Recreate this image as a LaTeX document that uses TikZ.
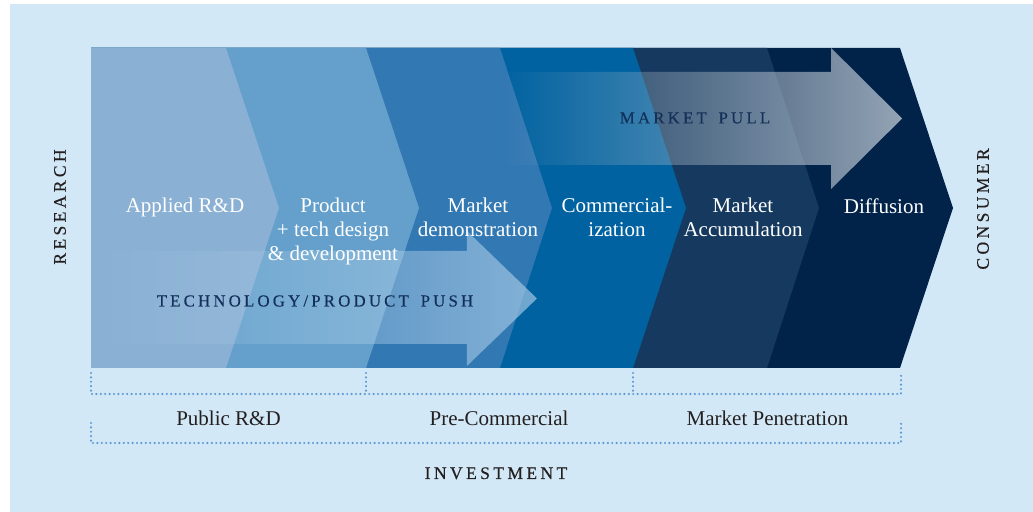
\documentclass[tikz,border=0pt]{standalone}
\usepackage{fontspec}
\setmainfont{Liberation Serif}
\newfontfamily\spacedcaps[LetterSpace=19, WordSpace=1.6, FakeBold=0.3]{Liberation Serif}
\usetikzlibrary{fadings}

\definecolor{bgblue}{HTML}{D3E8F6}
\definecolor{segA}{HTML}{8AB0D4}
\definecolor{segB}{HTML}{64A0CB}
\definecolor{segC}{HTML}{3278B3}
\definecolor{segD}{HTML}{0062A0}
\definecolor{segE}{HTML}{163A5F}
\definecolor{segF}{HTML}{012349}
\definecolor{pushfill}{HTML}{B0D0EA}
\definecolor{pullfill}{HTML}{B8C4D0}
\definecolor{navytext}{HTML}{13305A}
\definecolor{inktext}{HTML}{231F20}
\definecolor{dotblue}{HTML}{5B9BD5}

% opacity ramps for the two flow arrows
\tikzfading[name=pushfade, left color=transparent!100, middle color=transparent!62, right color=transparent!35]
\tikzfading[name=pullfade, left color=transparent!100, middle color=transparent!36, right color=transparent!20]

% one stage of the chevron band: fill, top/bottom x of the right edge, tip x
\newcommand\stageshape[3]{\fill[#1] (91,48) -- (#2,48) -- (#3,208) -- (#2,368) -- (91,368) -- cycle;}

\begin{document}
\begin{tikzpicture}[x=0.5pt, y=-0.5pt,
  stagetext/.style={text=white, inner sep=0pt, anchor=north, align=center,
    font=\fontsize{10.5}{12}\selectfont},
  flowtext/.style={text=navytext, inner sep=0pt,
    font=\fontsize{8.4}{10}\selectfont\spacedcaps},
  sidetext/.style={text=inktext, inner sep=0pt,
    font=\fontsize{8.8}{10}\selectfont\spacedcaps},
  phasetext/.style={text=inktext, inner sep=0pt, anchor=north,
    font=\fontsize{10.5}{12}\selectfont},
  dots/.style={draw=dotblue, line width=1.2pt, line cap=round,
    dash pattern=on 0pt off 2.2pt}]

\useasboundingbox (0,0) rectangle (1033,512);
\fill[white] (0,0) rectangle (1033,512);
\fill[bgblue] (10,4) rectangle (1033,512);

% chevron band, back to front
\stageshape{segF}{900}{953}
\stageshape{segE}{767}{819}
\stageshape{segD}{633}{686}
\stageshape{segC}{500}{552}
\stageshape{segB}{366}{419}
\stageshape{segA}{226}{279}

% market pull arrow
\fill[pullfill, path fading=pullfade]
  (500,72) -- (831,72) -- (831,48) -- (902,118.5) -- (831,189) -- (831,165) -- (500,165) -- cycle;

% technology / product push arrow
\fill[pushfill, path fading=pushfade]
  (91,251) -- (467,251) -- (467,231) -- (537,298.5) -- (467,366) -- (467,344) -- (91,344) -- cycle;

% stage labels
\node[stagetext] (applied) at (185,198) {Applied R\&D};
\node[stagetext] (product) at (333,198) {Product\\+ tech design\\\& development};
\node[stagetext] (demo) at (478,198) {Market\\demonstration};
\node[stagetext] (commercial) at (617,198) {Commercial-\\ization};
\node[stagetext] (accum) at (743,198) {Market\\Accumulation};
\node[stagetext] (diffusion) at (884,198) {Diffusion};

% flow labels
\node[flowtext] (pull) at (695,118) {MARKET PULL};
\node[flowtext] (push) at (315,301) {TECHNOLOGY/PRODUCT PUSH};

% side labels
\node[sidetext, rotate=90] (research) at (60,207) {RESEARCH};
\node[sidetext, rotate=90] (consumer) at (983,209) {CONSUMER};

% phase brackets
\coordinate (ua) at (91,373);  \coordinate (uab) at (91,394);
\coordinate (ub) at (366,373); \coordinate (ubb) at (366,394);
\coordinate (uc) at (633,373); \coordinate (ucb) at (633,394);
\coordinate (ud) at (901,373); \coordinate (udb) at (901,394);
\draw[dots] (ua) -- (uab) -- (udb) -- (ud);
\draw[dots] (ub) -- (ubb);
\draw[dots] (uc) -- (ucb);

\coordinate (la) at (91,423);  \coordinate (lab) at (91,443);
\coordinate (ld) at (901,423); \coordinate (ldb) at (901,443);
\draw[dots] (la) -- (lab) -- (ldb) -- (ld);

% phase labels
\node[phasetext] (public) at (228.5,411) {Public R\&D};
\node[phasetext] (precomm) at (499,411) {Pre-Commercial};
\node[phasetext] (penetration) at (767.5,411) {Market Penetration};
\node[sidetext, anchor=base] (investment) at (496,479) {INVESTMENT};

\end{tikzpicture}
\end{document}
